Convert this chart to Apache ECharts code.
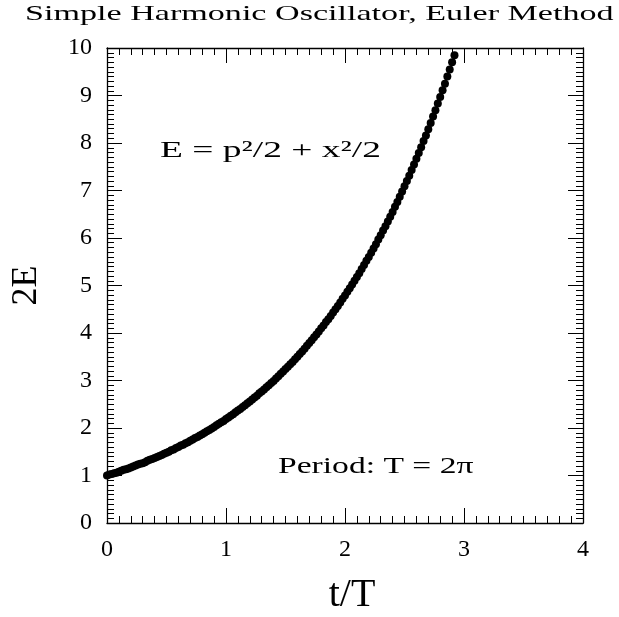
<!DOCTYPE html>
<html>
  <head>
    <meta charset="UTF-8" />
    <script src="https://cdn.jsdelivr.net/npm/echarts@6/dist/echarts.min.js"></script>
    <title>Simple Harmonic Oscillator, Euler Method</title>
    <style>
      html, body { margin: 0; padding: 0; background: #fff; }
    </style>
  </head>
  <body>
    <div id="main" style="width: 619px; height: 617px"></div>
    <script>
      // t/T for each Euler step (50 steps per period)
      const tOverT = [
        0.00, 0.02, 0.04, 0.06, 0.08, 0.10, 0.12, 0.14, 0.16, 0.18,
        0.20, 0.22, 0.24, 0.26, 0.28, 0.30, 0.32, 0.34, 0.36, 0.38,
        0.40, 0.42, 0.44, 0.46, 0.48, 0.50, 0.52, 0.54, 0.56, 0.58,
        0.60, 0.62, 0.64, 0.66, 0.68, 0.70, 0.72, 0.74, 0.76, 0.78,
        0.80, 0.82, 0.84, 0.86, 0.88, 0.90, 0.92, 0.94, 0.96, 0.98,
        1.00, 1.02, 1.04, 1.06, 1.08, 1.10, 1.12, 1.14, 1.16, 1.18,
        1.20, 1.22, 1.24, 1.26, 1.28, 1.30, 1.32, 1.34, 1.36, 1.38,
        1.40, 1.42, 1.44, 1.46, 1.48, 1.50, 1.52, 1.54, 1.56, 1.58,
        1.60, 1.62, 1.64, 1.66, 1.68, 1.70, 1.72, 1.74, 1.76, 1.78,
        1.80, 1.82, 1.84, 1.86, 1.88, 1.90, 1.92, 1.94, 1.96, 1.98,
        2.00, 2.02, 2.04, 2.06, 2.08, 2.10, 2.12, 2.14, 2.16, 2.18,
        2.20, 2.22, 2.24, 2.26, 2.28, 2.30, 2.32, 2.34, 2.36, 2.38,
        2.40, 2.42, 2.44, 2.46, 2.48, 2.50, 2.52, 2.54, 2.56, 2.58,
        2.60, 2.62, 2.64, 2.66, 2.68, 2.70, 2.72, 2.74, 2.76, 2.78,
        2.80, 2.82, 2.84, 2.86, 2.88, 2.90, 2.92
      ];
      // 2E
      const twoE = [
        1.00, 1.02, 1.03, 1.05, 1.06, 1.08, 1.10, 1.12, 1.13, 1.15,
        1.17, 1.19, 1.21, 1.23, 1.25, 1.26, 1.28, 1.31, 1.33, 1.35,
        1.37, 1.39, 1.41, 1.43, 1.46, 1.48, 1.50, 1.53, 1.55, 1.58,
        1.60, 1.63, 1.65, 1.68, 1.70, 1.73, 1.76, 1.79, 1.81, 1.84,
        1.87, 1.90, 1.93, 1.96, 1.99, 2.02, 2.06, 2.09, 2.12, 2.15,
        2.19, 2.22, 2.26, 2.29, 2.33, 2.37, 2.40, 2.44, 2.48, 2.52,
        2.56, 2.60, 2.64, 2.68, 2.73, 2.77, 2.81, 2.86, 2.90, 2.95,
        2.99, 3.04, 3.09, 3.14, 3.19, 3.24, 3.29, 3.34, 3.39, 3.45,
        3.50, 3.56, 3.61, 3.67, 3.73, 3.79, 3.85, 3.91, 3.97, 4.03,
        4.10, 4.16, 4.23, 4.29, 4.36, 4.43, 4.50, 4.57, 4.64, 4.72,
        4.79, 4.87, 4.94, 5.02, 5.10, 5.18, 5.26, 5.35, 5.43, 5.52,
        5.60, 5.69, 5.78, 5.87, 5.97, 6.06, 6.16, 6.25, 6.35, 6.45,
        6.55, 6.66, 6.76, 6.87, 6.98, 7.09, 7.20, 7.31, 7.43, 7.55,
        7.67, 7.79, 7.91, 8.04, 8.16, 8.29, 8.42, 8.56, 8.69, 8.83,
        8.97, 9.11, 9.25, 9.40, 9.55, 9.70, 9.85
      ];

      const titleText = "Simple Harmonic Oscillator, Euler Method";
      const energyText = "E = p\u00b2/2 + x\u00b2/2";
      const periodText = "Period: T = 2\u03c0";

      const serif = "'Liberation Serif', 'DejaVu Serif', serif";

      // shared look for the four frame axes
      function frameAxis(extra) {
        return Object.assign(
          {
            type: "value",
            axisLine: { show: true, onZero: false, lineStyle: { color: "#000", width: 1.3 } },
            axisTick: { show: true, inside: true, length: 15, lineStyle: { color: "#000", width: 1 } },
            minorTick: { show: true, splitNumber: 10, length: 7, lineStyle: { color: "#000", width: 1 } },
            splitLine: { show: false },
            minorSplitLine: { show: false },
          },
          extra
        );
      }

      const labelStyle = { color: "#000", fontFamily: serif, fontSize: 24 };

      const chart = echarts.init(document.getElementById("main"));
      chart.setOption({
        animation: false,
        backgroundColor: "#fff",
        grid: { left: 107, right: 36, top: 48, bottom: 94, outerBoundsMode: "none", containLabel: false },
        xAxis: [
          frameAxis({
            min: 0, max: 4, interval: 1, position: "bottom",
            axisLabel: Object.assign({ margin: 15 }, labelStyle),
            name: "t/T", nameLocation: "middle", nameGap: 52,
            nameTextStyle: { color: "#000", fontFamily: serif, fontSize: 40, padding: [0, 0, 0, 14] },
          }),
          frameAxis({ min: 0, max: 4, interval: 1, position: "top", axisLabel: { show: false } }),
        ],
        yAxis: [
          frameAxis({
            min: 0, max: 10, interval: 1, position: "left",
            axisLabel: Object.assign({ margin: 15 }, labelStyle),
            name: "2E", nameLocation: "middle", nameGap: 62, nameRotate: 90,
            nameTextStyle: { color: "#000", fontFamily: serif, fontSize: 36 },
          }),
          frameAxis({ min: 0, max: 10, interval: 1, position: "right", axisLabel: { show: false } }),
        ],
        graphic: [
          {
            type: "text", x: 25, y: 3,
            style: { text: titleText, fill: "#000", font: "22px " + serif },
            scaleX: 1.55,
          },
          {
            type: "text", x: 160, y: 139,
            style: { text: energyText, fill: "#000", font: "23px " + serif },
            scaleX: 1.63,
          },
          {
            type: "text", x: 278, y: 455,
            style: { text: periodText, fill: "#000", font: "23px " + serif },
            scaleX: 1.46,
          },
        ],
        series: [
          {
            type: "scatter",
            symbol: "circle",
            symbolSize: 8,
            itemStyle: { color: "#000", opacity: 1 },
            data: tOverT.map((t, i) => [t, twoE[i]]),
          },
        ],
      });
    </script>
  </body>
</html>
